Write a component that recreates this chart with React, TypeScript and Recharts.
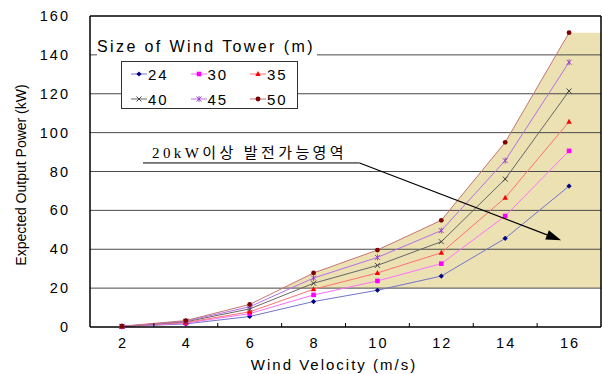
import React from 'react';
import { ComposedChart, Line, Area, XAxis, YAxis, ReferenceLine, ReferenceArea } from 'recharts';

// wind velocity (m/s) and expected output (kW) per tower height
const velocity = [2, 4, 6, 8, 10, 12, 14, 16];
const tower24 = [0.2, 1.6, 5.4, 13.1, 18.9, 26.2, 45.6, 72.5];
const tower30 = [0.25, 2.0, 6.9, 16.5, 23.7, 32.6, 57.1, 90.6];
const tower35 = [0.3, 2.3, 7.8, 19.4, 27.8, 38.2, 66.5, 105.6];
const tower40 = [0.3, 2.7, 9.3, 22.5, 31.7, 43.9, 76.1, 121.4];
const tower45 = [0.35, 3.0, 10.4, 25.2, 35.8, 49.6, 85.6, 136.2];
const tower50 = [0.4, 3.3, 11.6, 27.8, 39.6, 54.9, 95.0, 151.4];

const xTicks = [1, 2, 3, 4, 5, 6, 7, 8, 9, 10, 11, 12, 13, 14, 15, 16, 17];
const yTicks = [0, 20, 40, 60, 80, 100, 120, 140, 160];
const zoneFloor = 20;
const zoneLabel = '20kW이상 발전가능영역';
const legendTitle = 'Size of Wind Tower (m)';

type Marker = 'diamond' | 'square' | 'triangle' | 'cross' | 'star' | 'circle';

const series: { key: string; name: string; values: number[]; line: string; mark: string; marker: Marker }[] = [
  { key: 't24', name: '24', values: tower24, line: '#7373cc', mark: '#000080', marker: 'diamond' },
  { key: 't30', name: '30', values: tower30, line: '#ff70ff', mark: '#ff00ff', marker: 'square' },
  { key: 't35', name: '35', values: tower35, line: '#ff7070', mark: '#ff0000', marker: 'triangle' },
  { key: 't40', name: '40', values: tower40, line: '#666666', mark: '#333333', marker: 'cross' },
  { key: 't45', name: '45', values: tower45, line: '#b370e6', mark: '#9933cc', marker: 'star' },
  { key: 't50', name: '50', values: tower50, line: '#c47474', mark: '#800000', marker: 'circle' },
];

const rows: any[] = velocity.map((v, i) => {
  const r: any = { v, zone: tower50[i] };
  series.forEach((s) => (r[s.key] = s.values[i]));
  return r;
});
// shaded region runs flat to the right edge of the plot
rows.push({ v: 17, zone: tower50[tower50.length - 1] });

const FONT = '"Liberation Sans", Arial, sans-serif';

const MarkerShape = ({ cx, cy, type, color }: { cx: number; cy: number; type: Marker; color: string }) => {
  if (cx == null || cy == null) return null;
  switch (type) {
    case 'diamond':
      return <polygon points={`${cx},${cy - 2.6} ${cx + 2.6},${cy} ${cx},${cy + 2.6} ${cx - 2.6},${cy}`} fill={color} />;
    case 'square':
      return <rect x={cx - 2.3} y={cy - 2.3} width={4.6} height={4.6} fill={color} />;
    case 'triangle':
      return <polygon points={`${cx},${cy - 3} ${cx + 2.7},${cy + 2} ${cx - 2.7},${cy + 2}`} fill={color} />;
    case 'cross':
      return (
        <g stroke={color} strokeWidth={0.9}>
          <line x1={cx - 2.5} y1={cy - 2.5} x2={cx + 2.5} y2={cy + 2.5} />
          <line x1={cx - 2.5} y1={cy + 2.5} x2={cx + 2.5} y2={cy - 2.5} />
        </g>
      );
    case 'star':
      return (
        <g stroke={color} strokeWidth={0.9}>
          <line x1={cx - 2.5} y1={cy - 2.5} x2={cx + 2.5} y2={cy + 2.5} />
          <line x1={cx - 2.5} y1={cy + 2.5} x2={cx + 2.5} y2={cy - 2.5} />
          <line x1={cx} y1={cy - 3} x2={cx} y2={cy + 3} />
        </g>
      );
    default:
      return <circle cx={cx} cy={cy} r={2.4} fill={color} />;
  }
};

const XTick = ({ x, y, payload }: any) => {
  const v = payload.value;
  if (v % 2 === 1) {
    if (v === 1 || v === 17) return null;
    return <line x1={x} x2={x} y1={y - 4} y2={y} stroke="#000" strokeWidth={1} />;
  }
  return (
    <text x={x + 1} y={y + 21} textAnchor="middle" fontFamily={FONT} fontSize={14.5} letterSpacing={2} fill="#000">
      {v}
    </text>
  );
};

const YTick = ({ x, y, payload }: any) => (
  <text x={x - 20} y={y + 5} textAnchor="end" fontFamily={FONT} fontSize={14.5} letterSpacing={2} fill="#000">
    {payload.value}
  </text>
);

const LabelLine = ({ x1, y1, x2, y2 }: any) => (
  <g>
    <line x1={x1} y1={y1} x2={x2} y2={y2} stroke="#000" strokeWidth={1} />
    <text x={x1 + 9} y={y1 - 5} fontFamily='"Liberation Serif", "Noto Sans CJK KR", serif' fontSize={15} letterSpacing={3.4} fill="#000">
      {zoneLabel}
    </text>
  </g>
);

const Arrow = ({ x1, y1, x2, y2 }: any) => {
  const ang = Math.atan2(y2 - y1, x2 - x1);
  const len = 15;
  const half = 5;
  const bx = x2 - len * Math.cos(ang);
  const by = y2 - len * Math.sin(ang);
  const px = -Math.sin(ang) * half;
  const py = Math.cos(ang) * half;
  return (
    <g>
      <line x1={x1} y1={y1} x2={bx} y2={by} stroke="#000" strokeWidth={1.2} />
      <polygon points={`${x2},${y2} ${bx + px},${by + py} ${bx - px},${by - py}`} fill="#000" />
    </g>
  );
};

const Legend = () => (
  <div style={{ position: 'absolute', left: 97, top: 37, fontFamily: FONT }}>
    <div style={{ background: '#fff', fontSize: 16, letterSpacing: 2.4, lineHeight: '20px', paddingRight: 2 }}>{legendTitle}</div>
    <div
      style={{
        position: 'absolute',
        left: 24,
        top: 24,
        width: 175,
        height: 46,
        border: '1.5px solid #333',
        background: '#fff',
      }}
    >
      {series.map((s, i) => {
        const col = i % 3;
        const row = Math.floor(i / 3);
        return (
          <div
            key={s.key}
            style={{
              position: 'absolute',
              left: 9 + col * 59.5,
              top: 3 + row * 25,
              display: 'flex',
              alignItems: 'center',
              height: 18,
            }}
          >
            <svg width={16} height={10} style={{ display: 'block' }}>
              <line x1={0} y1={5} x2={16} y2={5} stroke={s.line} strokeWidth={1} />
              <MarkerShape cx={8} cy={5} type={s.marker} color={s.mark} />
            </svg>
            <span style={{ fontSize: 15, letterSpacing: 2, marginLeft: 1 }}>{s.name}</span>
          </div>
        );
      })}
    </div>
  </div>
);

export default function App() {
  return (
    <div style={{ position: 'absolute', left: 0, top: 0, width: 602, height: 374, background: '#fff' }}>
      <ComposedChart width={602} height={374} data={rows} margin={{ top: 16, right: 1, bottom: 0, left: 0 }}>
        <XAxis
          dataKey="v"
          type="number"
          domain={[1, 17]}
          ticks={xTicks}
          interval={0}
          height={47}
          tickSize={0}
          tickMargin={0}
          tick={<XTick />}
          axisLine={{ stroke: '#000', strokeWidth: 1.5 }}
        />
        <YAxis
          type="number"
          domain={[0, 160]}
          ticks={yTicks}
          width={90}
          tickSize={0}
          tickMargin={0}
          tick={<YTick />}
          axisLine={{ stroke: '#000', strokeWidth: 1.5 }}
        />
        {/* tan region above 20 kW, bounded by the 50 m curve */}
        <Area
          dataKey="zone"
          type="linear"
          baseValue={zoneFloor}
          fill="#ece1b3"
          fillOpacity={1}
          stroke="none"
          isAnimationActive={false}
          dot={false}
          activeDot={false}
          zIndex={100}
        />
        <ReferenceArea x1={1} x2={17} y1={0} y2={zoneFloor} fill="#fff" fillOpacity={1} stroke="none" zIndex={150} />
        {yTicks.slice(1, -1).map((t) => (
          <ReferenceLine key={t} y={t} stroke="#4a4a4a" strokeWidth={1} zIndex={200} />
        ))}
        <ReferenceLine y={160} stroke="#000" strokeWidth={1.5} zIndex={200} />
        <ReferenceLine x={17} stroke="#000" strokeWidth={1.5} zIndex={200} />
        <ReferenceLine
          segment={[{ x: 2.66, y: 84.4 }, { x: 9.44, y: 84.4 }]}
          shape={(p: any) => <LabelLine {...p} />}
          zIndex={900}
        />
        <ReferenceLine
          segment={[{ x: 9.44, y: 84.4 }, { x: 15.75, y: 44.6 }]}
          shape={(p: any) => <Arrow {...p} />}
          zIndex={900}
        />
        {series.map((s) => (
          <Line
            key={s.key}
            dataKey={s.key}
            type="linear"
            stroke={s.line}
            strokeWidth={1}
            isAnimationActive={false}
            activeDot={false}
            dot={(p: any) => <MarkerShape key={`${s.key}-${p.index}`} cx={p.cx} cy={p.cy} type={s.marker} color={s.mark} />}
          />
        ))}
        <text
          x={22}
          y={175}
          transform="rotate(-90 22 175)"
          textAnchor="middle"
          dominantBaseline="middle"
          fontFamily={FONT}
          fontSize={14}
          fill="#000"
        >
          Expected Output Power (kW)
        </text>
        <text x={334} y={370} textAnchor="middle" fontFamily={FONT} fontSize={15} letterSpacing={2} fill="#000">
          Wind Velocity (m/s)
        </text>
      </ComposedChart>
      <Legend />
    </div>
  );
}
